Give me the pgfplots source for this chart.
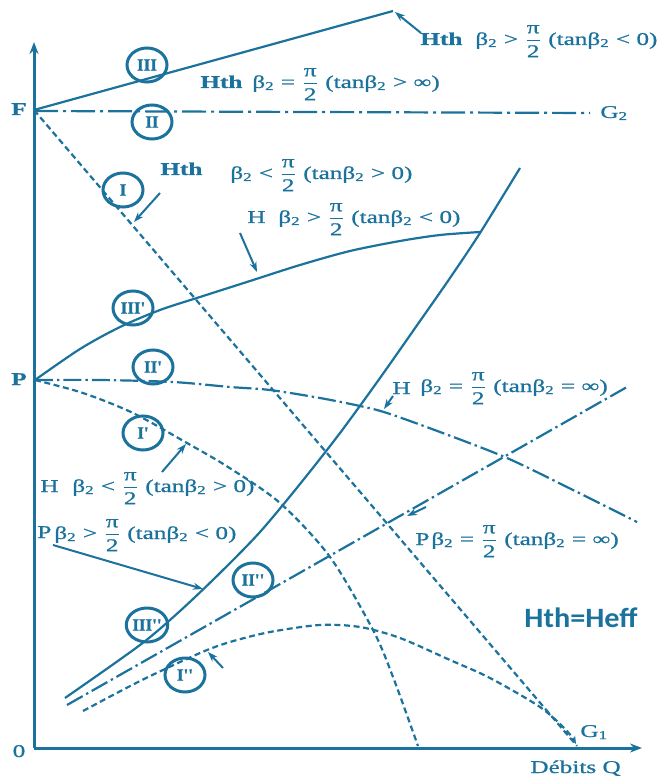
\documentclass[border=0pt]{standalone}
\usepackage{pgfplots}
\pgfplotsset{compat=1.18}
\usepackage{fontspec}
\setmainfont{Liberation Serif}[FakeStretch=1.4, FakeBold=0.9]
\newfontfamily\romfont{Liberation Serif}[FakeBold=1.2]
\newfontfamily\headfont{Carlito}
\usetikzlibrary{arrows.meta,shapes.geometric}
\definecolor{ink}{RGB}{27,114,156}

% beta_2 and pi/2 as they appear in the annotations
\newcommand{\bt}{β\textsubscript{2}}
\newcommand{\pf}{$\displaystyle{\hbox{π}\over\hbox{2}}$}

\begin{document}
\begin{tikzpicture}[
  lbl/.style={anchor=base west, inner sep=0pt, text=ink, font=\fontsize{9}{10}\selectfont},
  num/.style={draw=ink, line width=1.5pt, ellipse, inner sep=0pt,
              minimum width=20pt, minimum height=17pt, text=ink,
              font=\romfont\bfseries\fontsize{8.5}{9}\selectfont},
  pt/.style={ink, line width=1pt, -{Stealth[length=5pt,width=3.5pt]}}
]
\begin{axis}[
  width=334.5pt, height=390pt, scale only axis,
  xmin=0, xmax=669, ymin=0, ymax=780, y dir=reverse,
  hide axis, clip=false,
  every axis plot/.append style={ink, line width=1.1pt}
]
% frame of the picture
\addplot[draw=none] coordinates {(0,0) (669,780)};

% axes
\addplot[line width=1.5pt, -{Stealth[length=6pt,width=4.5pt]}] coordinates {(34,748) (34,42)};
\addplot[line width=1.5pt, -{Stealth[length=6pt,width=4.5pt]}] coordinates {(34,748) (642,748)};

% theoretical heads from F
\addplot[solid] coordinates {(34,110) (393,11)};                       % III
\addplot[dash pattern=on 12pt off 2.5pt on 1.5pt off 2.5pt] coordinates {(34,111) (590,113)}; % II
\addplot[dash pattern=on 3pt off 1.8pt] coordinates {(34,110) (577,746)}; % I

% real heads from P
\addplot[solid, smooth] coordinates {(35,380) (80,349) (120,327) (160,310) (200,297)
  (250,281) (300,265) (350,251) (400,241) (440,235) (480,232)};        % III'
\addplot[smooth, dash pattern=on 9pt off 2pt on 1.2pt off 2pt] coordinates {(35,380) (100,380) (173,382) (230,387)
  (270,390) (320,398) (360,406) (387,413) (440,432) (507,458) (573,490) (637,522)}; % II'
\addplot[smooth, dash pattern=on 3pt off 1.8pt] coordinates {(35,380) (83,393) (133,413) (187,443)
  (228,467) (280,503) (330,557) (373,630) (393,677) (418,746)};        % I'

% power curves
\addplot[solid, smooth] coordinates {(65,698) (140,645) (180,611) (220,573) (260,532)
  (300,484) (340,433) (380,378) (420,321) (450,278) (480,233) (520,168)}; % III''
\addplot[dash pattern=on 9pt off 2pt on 1.2pt off 2pt] coordinates {(67,705) (627,387)}; % II''
\addplot[smooth, dash pattern=on 3pt off 1.8pt, -{Stealth[length=4pt,width=3pt]}] coordinates {(83,711) (140,681) (200,653) (230,642)
  (270,632) (320,625) (360,627) (400,638) (450,660) (490,678) (540,707) (567,731) (576,744)}; % I''

% pointers from the annotations to the curves
\draw[pt] (axis cs:421,33) -- (axis cs:395,12);
\draw[pt] (axis cs:160,193) -- (axis cs:134,222);
\draw[pt] (axis cs:240,233) -- (axis cs:257,272);
\draw[pt] (axis cs:393,396) -- (axis cs:384,409);
\draw[pt] (axis cs:162,472) -- (axis cs:186,444);
\draw[pt] (axis cs:53,545) -- (axis cs:203,589);
\draw[pt] (axis cs:426,507) -- (axis cs:407,516);
\draw[pt] (axis cs:223,668) -- (axis cs:208,652);

% curve numbers
\node[num] at (axis cs:147,65) {III};
\node[num] at (axis cs:152,122) {II};
\node[num] at (axis cs:123,190) {I};
\node[num] at (axis cs:133,308) {III'};
\node[num] at (axis cs:153,367) {II'};
\node[num] at (axis cs:143,433) {I'};
\node[num] at (axis cs:147,625) {III''};
\node[num] at (axis cs:253,580) {II''};
\node[num] at (axis cs:185,675) {I''};

% point and axis labels
\node[lbl, anchor=base] at (axis cs:19,115) {\bfseries F};
\node[lbl, anchor=base] at (axis cs:19,385) {\bfseries P};
\node[lbl, anchor=base] at (axis cs:19,757) {0};
\node[lbl] at (axis cs:600,118) {G\textsubscript{2}};
\node[lbl] at (axis cs:580,737) {G\textsubscript{1}};
\node[lbl] at (axis cs:530,773) {Débits Q};
\node[anchor=base west, inner sep=0pt, text=ink, font=\headfont\bfseries\fontsize{14}{16}\selectfont, xscale=1.08]
  at (axis cs:524,627) {Hth=Heff};

% annotations
\node[lbl] at (axis cs:420,45) {\bfseries Hth};
\node[lbl] at (axis cs:475,45) {\bt{} > \pf{} (tan\bt{} < 0)};
\node[lbl] at (axis cs:200,88) {\bfseries Hth};
\node[lbl] at (axis cs:252,88) {\bt{} = \pf{} (tan\bt{} > ∞)};
\node[lbl] at (axis cs:160,175) {\bfseries Hth};
\node[lbl] at (axis cs:230,179) {\bt{} < \pf{} (tan\bt{} > 0)};
\node[lbl] at (axis cs:247,223) {H};
\node[lbl] at (axis cs:278,223) {\bt{} > \pf{} (tan\bt{} < 0)};
\node[lbl] at (axis cs:392,394) {H};
\node[lbl] at (axis cs:420,392) {\bt{} = \pf{} (tan\bt{} = ∞)};
\node[lbl] at (axis cs:40,492) {H};
\node[lbl] at (axis cs:72,492) {\bt{} < \pf{} (tan\bt{} > 0)};
\node[lbl] at (axis cs:37,538) {P};
\node[lbl] at (axis cs:54,539) {\bt{} > \pf{} (tan\bt{} < 0)};
\node[lbl] at (axis cs:415,545) {P};
\node[lbl] at (axis cs:431,545) {\bt{} = \pf{} (tan\bt{} = ∞)};
\end{axis}
\end{tikzpicture}
\end{document}
